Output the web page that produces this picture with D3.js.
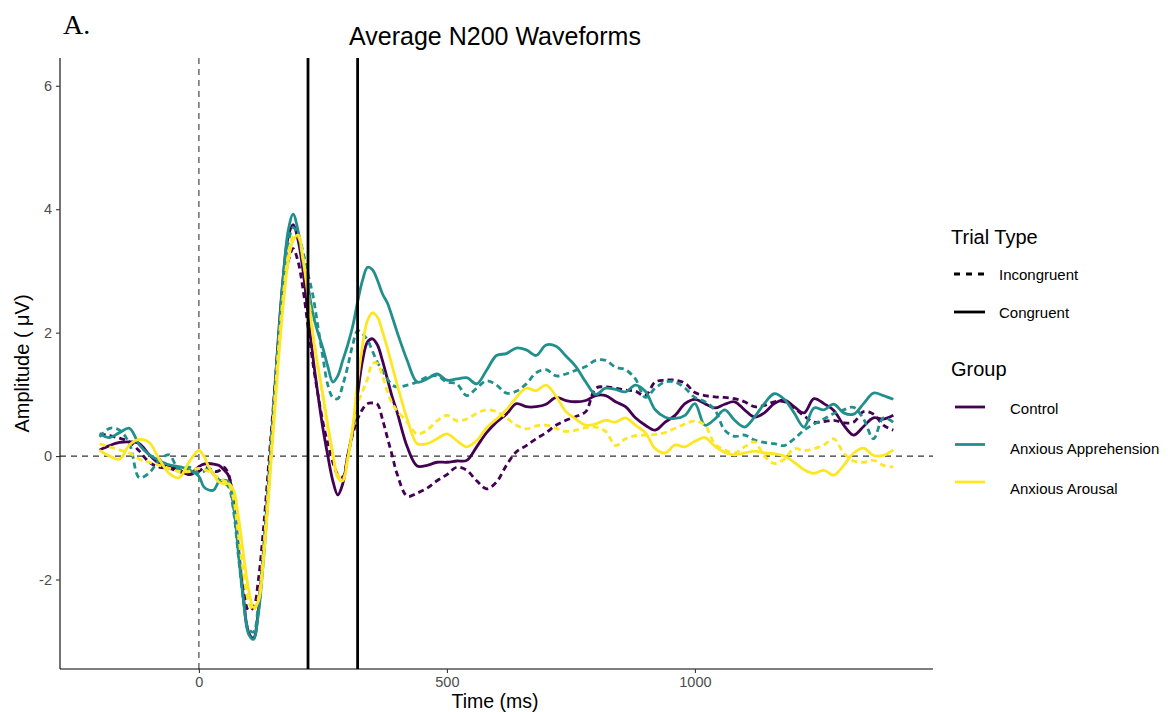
<!DOCTYPE html>
<html>
<head>
<meta charset="utf-8">
<script src="https://cdn.jsdelivr.net/npm/d3@7"></script>
<style>
  body { margin: 0; background: #fff; }
  text { font-family: "Liberation Sans", Arial, sans-serif; }
</style>
</head>
<body>
<script>
// time points (ms)
var times = [-200,-180,-160,-140,-120,-100,-80,-60,-40,-20,
  0,10,20,30,40,50,60,70,80,90,100,
  110,120,130,140,150,160,170,180,190,200,
  210,220,230,240,250,260,270,280,290,300,
  310,320,330,340,350,360,370,380,390,400,
  420,440,460,480,500,520,540,560,580,600,
  620,640,660,680,700,720,740,760,780,800,
  820,840,860,880,900,920,940,960,980,1000,
  1020,1040,1060,1080,1100,1120,1140,1160,1180,1200,
  1220,1240,1260,1280,1300,1320,1340,1360,1380,1400];

var controlCongruent = [0.10,0.17,0.22,0.23,0.20,0.02,-0.12,-0.18,-0.22,-0.30,
  -0.17,-0.13,-0.12,-0.13,-0.15,-0.22,-0.32,-0.75,-1.50,-2.30,-2.85,
  -2.95,-2.50,-1.60,-0.50,0.70,1.90,2.90,3.55,3.75,3.50,
  3.00,2.30,1.60,1.00,0.45,0.00,-0.40,-0.63,-0.45,0.00,
  0.40,1.00,1.55,1.85,1.90,1.80,1.55,1.25,0.95,0.70,
  0.15,-0.16,-0.15,-0.10,-0.10,-0.08,-0.07,0.15,0.38,0.55,
  0.68,0.85,0.80,0.80,0.84,0.95,0.90,0.88,0.90,0.98,
  0.98,0.88,0.80,0.62,0.50,0.42,0.55,0.66,0.85,0.92,
  0.85,0.78,0.84,0.88,0.75,0.63,0.70,0.85,0.91,0.80,
  0.70,0.93,0.85,0.74,0.50,0.34,0.48,0.62,0.60,0.66];

var controlIncongruent = [0.36,0.33,0.29,0.23,0.08,-0.10,-0.18,-0.20,-0.25,-0.30,
  -0.25,-0.19,-0.20,-0.25,-0.24,-0.18,-0.30,-0.80,-1.50,-2.15,-2.50,
  -2.45,-2.00,-1.20,-0.20,0.80,1.80,2.60,3.15,3.36,3.15,
  2.70,2.10,1.50,1.00,0.55,0.20,-0.10,-0.30,-0.34,0.00,
  0.35,0.60,0.76,0.85,0.86,0.84,0.60,0.30,0.00,-0.30,
  -0.65,-0.60,-0.52,-0.40,-0.30,-0.18,-0.23,-0.40,-0.53,-0.42,
  -0.15,0.07,0.17,0.28,0.38,0.50,0.58,0.64,0.72,1.10,
  1.12,1.10,1.07,1.05,0.98,1.20,1.23,1.23,1.18,1.03,
  0.98,0.96,0.95,0.93,0.88,0.80,0.82,0.88,0.88,0.78,
  0.65,0.55,0.56,0.58,0.54,0.55,0.72,0.68,0.50,0.42];

var apprehensionCongruent = [0.36,0.30,0.38,0.45,0.18,0.02,-0.07,-0.14,-0.17,-0.22,
  -0.33,-0.50,-0.55,-0.55,-0.42,-0.39,-0.42,-0.80,-1.60,-2.35,-2.88,
  -2.97,-2.55,-1.70,-0.60,0.60,1.80,2.90,3.65,3.92,3.65,
  3.15,2.75,2.30,2.00,1.75,1.45,1.20,1.30,1.55,1.80,
  2.10,2.50,2.85,3.06,3.02,2.85,2.63,2.48,2.25,2.00,
  1.55,1.20,1.25,1.33,1.23,1.25,1.27,1.17,1.39,1.63,
  1.66,1.75,1.72,1.63,1.80,1.78,1.62,1.45,1.20,1.00,
  1.10,1.08,1.04,1.15,1.05,0.75,0.63,0.61,0.66,0.85,
  0.50,0.60,0.75,0.58,0.47,0.63,0.85,1.01,0.92,0.70,
  0.47,0.78,0.75,0.84,0.70,0.68,0.85,1.02,0.98,0.92];

var apprehensionIncongruent = [0.31,0.45,0.42,0.20,-0.35,-0.27,-0.07,0.02,-0.22,-0.18,
  -0.28,-0.25,-0.20,-0.30,-0.38,-0.43,-0.50,-0.90,-1.65,-2.35,-2.80,
  -2.85,-2.40,-1.55,-0.45,0.70,1.85,2.80,3.45,3.70,3.60,
  3.30,2.95,2.60,2.10,1.60,1.15,0.95,0.93,1.15,1.45,
  1.80,2.03,1.98,1.88,1.70,1.52,1.38,1.25,1.15,1.12,
  1.15,1.20,1.28,1.30,1.20,1.17,0.98,1.10,1.22,1.15,
  1.02,1.05,1.17,1.35,1.40,1.30,1.33,1.39,1.45,1.55,
  1.55,1.44,1.40,1.25,0.95,1.10,1.20,1.20,1.10,0.95,
  0.88,0.75,0.42,0.32,0.34,0.26,0.22,0.20,0.17,0.28,
  0.42,0.52,0.60,0.69,0.75,0.79,0.60,0.28,0.62,0.55];

var arousalCongruent = [0.09,0.00,-0.05,0.18,0.27,0.22,-0.05,-0.28,-0.35,-0.10,
  0.09,0.00,-0.18,-0.30,-0.42,-0.45,-0.45,-0.55,-1.00,-1.60,-2.15,
  -2.45,-2.35,-1.70,-0.70,0.40,1.50,2.45,3.15,3.50,3.58,
  3.20,2.60,1.95,1.45,1.00,0.50,0.05,-0.35,-0.40,-0.05,
  0.45,1.20,1.80,2.20,2.32,2.25,2.02,1.75,1.45,1.15,
  0.60,0.20,0.20,0.28,0.36,0.25,0.15,0.25,0.46,0.60,
  0.75,0.95,1.10,1.06,1.15,0.97,0.72,0.60,0.50,0.52,
  0.58,0.55,0.62,0.50,0.38,0.12,0.05,0.18,0.15,0.24,
  0.30,0.16,0.06,0.02,0.05,0.08,0.05,0.04,0.00,-0.10,
  -0.22,-0.28,-0.23,-0.31,-0.15,0.05,0.13,0.01,0.01,0.10];

var arousalIncongruent = [0.20,0.15,0.10,0.05,-0.05,-0.10,-0.15,-0.20,-0.25,-0.25,
  -0.20,-0.22,-0.25,-0.30,-0.35,-0.40,-0.45,-0.70,-1.30,-1.90,-2.35,
  -2.50,-2.30,-1.55,-0.50,0.60,1.70,2.60,3.25,3.55,3.55,
  3.20,2.65,2.00,1.45,0.95,0.45,0.00,-0.30,-0.38,-0.05,
  0.45,0.85,1.05,1.25,1.50,1.50,1.30,1.05,0.85,0.73,
  0.55,0.36,0.42,0.57,0.66,0.57,0.60,0.69,0.75,0.72,
  0.62,0.50,0.44,0.49,0.50,0.45,0.40,0.42,0.46,0.47,
  0.40,0.17,0.28,0.33,0.34,0.35,0.38,0.45,0.52,0.57,
  0.50,0.20,0.10,0.05,0.15,0.23,0.00,-0.12,-0.05,0.12,
  0.09,0.12,0.18,0.28,0.05,-0.08,-0.10,-0.07,-0.15,-0.18];

var groups = ["Control", "Anxious Apprehension", "Anxious Arousal"];
var groupColors = ["#440154", "#21908C", "#FDE725"];
var trialTypes = ["Incongruent", "Congruent"];
var windowLines = [220, 320];
var xTicks = [0, 500, 1000];
var yTicks = [-2, 0, 2, 4, 6];

var series = [
  {group: "Control", trial: "Incongruent", values: controlIncongruent},
  {group: "Control", trial: "Congruent", values: controlCongruent},
  {group: "Anxious Apprehension", trial: "Incongruent", values: apprehensionIncongruent},
  {group: "Anxious Apprehension", trial: "Congruent", values: apprehensionCongruent},
  {group: "Anxious Arousal", trial: "Incongruent", values: arousalIncongruent},
  {group: "Anxious Arousal", trial: "Congruent", values: arousalCongruent}
];

var w = 1173, h = 712;
var plotLeft = 60, plotRight = 933, plotTop = 58, plotBottom = 669;

var svg = d3.select("body").append("svg")
    .attr("width", w)
    .attr("height", h);

svg.append("rect").attr("width", w).attr("height", h).attr("fill", "#fff");

var xScale = d3.scaleLinear().domain([-280, 1480]).range([plotLeft, plotRight]);
var yScale = d3.scaleLinear().domain([-3.45, 6.45]).range([plotBottom, plotTop]);
var colorScale = d3.scaleOrdinal().domain(groups).range(groupColors);
var dashScale = d3.scaleOrdinal().domain(trialTypes).range(["6,4", null]);

// reference lines at zero
svg.append("line")
    .attr("x1", plotLeft).attr("x2", plotRight)
    .attr("y1", yScale(0)).attr("y2", yScale(0))
    .attr("stroke", "#333").attr("stroke-width", 1.3)
    .attr("stroke-dasharray", "6,5");

svg.append("line")
    .attr("x1", xScale(0)).attr("x2", xScale(0))
    .attr("y1", plotTop).attr("y2", plotBottom)
    .attr("stroke", "#555").attr("stroke-width", 1.3)
    .attr("stroke-dasharray", "6,5");

var line = d3.line()
    .x(function(d, i) { return xScale(times[i]); })
    .y(function(d) { return yScale(d); })
    .curve(d3.curveCatmullRom.alpha(0.5));

svg.append("g")
    .selectAll("path")
    .data(series)
    .enter()
    .append("path")
    .attr("d", function(d) { return line(d.values); })
    .attr("fill", "none")
    .attr("stroke", function(d) { return colorScale(d.group); })
    .attr("stroke-width", 2.8)
    .attr("stroke-dasharray", function(d) { return dashScale(d.trial); })
    .attr("stroke-linejoin", "round");

// N200 window
svg.append("g")
    .selectAll("line")
    .data(windowLines)
    .enter()
    .append("line")
    .attr("x1", function(d) { return xScale(d); })
    .attr("x2", function(d) { return xScale(d); })
    .attr("y1", plotTop).attr("y2", plotBottom)
    .attr("stroke", "#000").attr("stroke-width", 2.8);

// axes
var plainFormat = function(d) { return String(d); };
var xAxis = d3.axisBottom(xScale).tickValues(xTicks).tickFormat(plainFormat)
    .tickSize(4).tickSizeOuter(0).tickPadding(4);
var yAxis = d3.axisLeft(yScale).tickValues(yTicks).tickFormat(plainFormat)
    .tickSize(4).tickSizeOuter(0).tickPadding(4);

var gx = svg.append("g")
    .attr("transform", "translate(0," + plotBottom + ")")
    .call(xAxis);
var gy = svg.append("g")
    .attr("transform", "translate(" + plotLeft + ",0)")
    .call(yAxis);

[gx, gy].forEach(function(g) {
  g.select(".domain").attr("stroke", "#000").attr("stroke-width", 1.1);
  g.selectAll(".tick line").attr("stroke", "#333").attr("stroke-width", 1.1);
  g.selectAll(".tick text")
    .attr("fill", "#4d4d4d")
    .style("font-size", "14.5px")
    .style("font-family", "'Liberation Sans', Arial, sans-serif");
});
gx.select(".domain").attr("d", "M" + plotLeft + ",0H" + plotRight);
gy.select(".domain").attr("d", "M0," + plotTop + "V" + plotBottom);

// titles
svg.append("text")
    .attr("x", 63).attr("y", 34)
    .style("font-family", "'Liberation Serif', 'Times New Roman', serif")
    .style("font-size", "28px")
    .text("A.");

svg.append("text")
    .attr("x", 495).attr("y", 45)
    .attr("text-anchor", "middle")
    .style("font-size", "25px")
    .text("Average N200 Waveforms");

svg.append("text")
    .attr("x", 495).attr("y", 708)
    .attr("text-anchor", "middle")
    .style("font-size", "19.5px")
    .text("Time (ms)");

svg.append("text")
    .attr("transform", "translate(29," + ((plotTop + plotBottom) / 2) + ") rotate(-90)")
    .attr("text-anchor", "middle")
    .style("font-size", "20px")
    .text("Amplitude ( \u03bcV)");

// legend: trial type
var legend = svg.append("g");

legend.append("text")
    .attr("x", 951).attr("y", 244)
    .style("font-size", "20px")
    .text("Trial Type");

var trialKeys = legend.selectAll(".trialkey")
    .data(trialTypes)
    .enter()
    .append("g")
    .attr("class", "trialkey")
    .attr("transform", function(d, i) { return "translate(0," + (274 + i * 38) + ")"; });

trialKeys.append("line")
    .attr("x1", 954).attr("x2", 985)
    .attr("stroke", "#000").attr("stroke-width", 2.8)
    .attr("stroke-dasharray", function(d) { return d == "Incongruent" ? "6,6" : null; });

trialKeys.append("text")
    .attr("x", 999).attr("y", 5.5)
    .style("font-size", "15px")
    .text(function(d) { return d; });

// legend: group
legend.append("text")
    .attr("x", 951).attr("y", 376)
    .style("font-size", "20px")
    .text("Group");

var groupKeys = legend.selectAll(".groupkey")
    .data(groups)
    .enter()
    .append("g")
    .attr("class", "groupkey")
    .attr("transform", function(d, i) { return "translate(0," + (407 + i * 37.5) + ")"; });

groupKeys.append("line")
    .attr("x1", 955).attr("x2", 985)
    .attr("stroke", function(d) { return colorScale(d); })
    .attr("stroke-width", 2.8);

groupKeys.append("text")
    .attr("x", 1010).attr("y", function(d, i) { return 7 + i * 2.5; })
    .style("font-size", "15px")
    .text(function(d) { return d; });
</script>
</body>
</html>
